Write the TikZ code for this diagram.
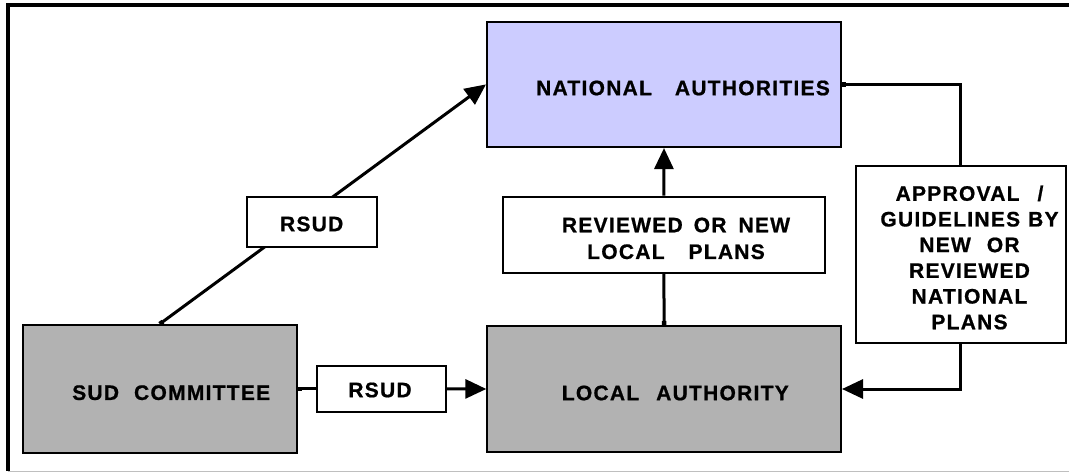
\documentclass[tikz,border=0pt]{standalone}
\usepackage{fontspec}
\setmainfont{Liberation Sans}[LetterSpace=6, BoldFeatures={FakeBold=0.8}]
\usetikzlibrary{arrows.meta,backgrounds}
\definecolor{natfill}{HTML}{CCCCFF}
\definecolor{locfill}{HTML}{B2B2B2}
\newcommand{\wgap}[1]{\hspace*{#1pt}}
\tikzset{
  box/.style={draw=black, line width=2pt, inner sep=0pt, rectangle},
  lbl/.style={font=\bfseries\fontsize{21}{26.7}\selectfont, align=center, inner sep=0pt},
  conn/.style={line width=3pt, black},
  tip/.style={-{Triangle[length=21pt,width=19pt]}},
  sq/.style={{Square[length=4pt,width=4.5pt]}-},
  sqtip/.style={{Square[length=4pt,width=4.5pt]}-{Triangle[length=21pt,width=19pt]}}
}
\begin{document}
\begin{tikzpicture}[x=1pt,y=-1pt]
\useasboundingbox (0,0) rectangle (1069,472);
% frame
\draw[line width=4pt, black] (1069,5.3) -- (7.5,5.3) -- (7.5,471);
\draw[line width=1pt, black!25] (7.5,471) -- (1069,471);
% boxes
\node[box, fill=natfill, minimum width=354pt, minimum height=125.3pt] (na) at (664,84.4) {};
\node[lbl] (natext) at (683,88) {NATIONAL\wgap{23}AUTHORITIES};
\node[box, fill=locfill, minimum width=274pt, minimum height=127.7pt] (sud) at (159.7,388.85) {};
\node[lbl] (sudtext) at (171.2,392.7) {SUD\wgap{15}COMMITTEE};
\node[box, fill=locfill, minimum width=353.7pt, minimum height=126pt] (la) at (664.15,389) {};
\node[lbl] (latext) at (675.3,393) {LOCAL\wgap{17}AUTHORITY};
\node[box, fill=white, minimum width=130pt, minimum height=50pt] (rsudA) at (311.7,221.7) {};
\node[lbl] (rsudAtext) at (311.7,224) {RSUD};
\node[box, fill=white, minimum width=129.3pt, minimum height=45.7pt] (rsudB) at (381.35,388.85) {};
\node[lbl] (rsudBtext) at (380,390) {RSUD};
\node[box, fill=white, minimum width=322.3pt, minimum height=76pt] (rev) at (663.85,234.7) {};
\node[lbl] (revtext) at (676,238.4) {REVIEWED\wgap{11}OR\wgap{12}NEW\\LOCAL\wgap{24}PLANS};
\node[box, fill=white, minimum width=210pt, minimum height=176.7pt] (appr) at (960.7,254.35) {};
\node[lbl, font=\bfseries\fontsize{21}{25.7}\selectfont] (apprtext) at (969.5,257.5) {APPROVAL\wgap{18}/\\GUIDELINES\wgap{8}BY\\NEW\wgap{16}OR\\REVIEWED\\NATIONAL\\PLANS};
% connectors
\begin{pgfonlayer}{background}
\draw[conn, sqtip] (sud.north) -- (na.west);
\end{pgfonlayer}
\draw[conn, sq] (sud.east) -- (rsudB.west);
\draw[conn, tip] (rsudB.east) -- (la.west);
\draw[conn, sq] (la.north) -- (rev.south);
\draw[conn, tip] (rev.north) -- (na.south);
\draw[conn, sq] (na.east) -| (appr.north);
\draw[conn, tip] (appr.south) |- (la.east);
\end{tikzpicture}
\end{document}
